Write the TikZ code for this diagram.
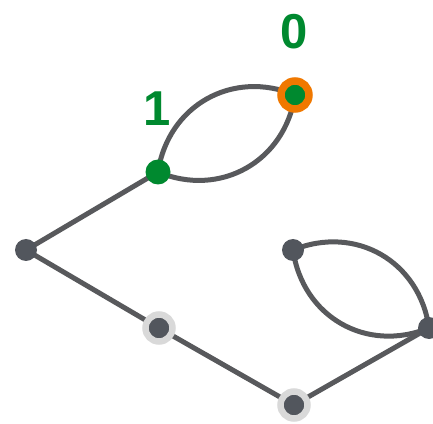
\documentclass[tikz,border=0pt]{standalone}
\usepackage{fontspec}
\setmainfont{Liberation Sans}
\usetikzlibrary{backgrounds}
\definecolor{vtxgray}{HTML}{52565D}
\definecolor{edgegray}{HTML}{58595C}
\definecolor{ringgray}{HTML}{D9D9D9}
\definecolor{mygreen}{HTML}{00892F}
\definecolor{myorange}{HTML}{F07800}
\begin{document}
\begin{tikzpicture}[x=1pt, y=1pt,
    vtx/.style={circle, fill=vtxgray, inner sep=0pt, minimum size=22pt},
    greenvtx/.style={circle, fill=mygreen, inner sep=0pt, minimum size=25pt},
    ringvtx/.style={circle, fill=vtxgray, draw=ringgray, line width=6.5pt, inner sep=0pt, minimum size=27pt},
    markvtx/.style={circle, fill=mygreen, draw=myorange, line width=7.5pt, inner sep=0pt, minimum size=28pt},
    edge/.style={draw=edgegray, line width=5pt},
    lens/.style={edge, looseness=1.1},
    lbl/.style={text=mygreen, font=\fontsize{49}{49}\selectfont\bfseries}]
    \useasboundingbox (0,0) rectangle (433,423);

    % Vertices
    \node[vtx] (a) at (26,173) {};
    \node[greenvtx] (b) at (158,251) {};
    \node[markvtx] (c) at (295,328) {};
    \node[ringvtx] (d) at (159,95) {};
    \node[ringvtx] (e) at (294,18) {};
    \node[vtx] (f) at (429,95) {};
    \node[vtx] (g) at (293,173) {};

    % Edges
    \begin{pgfonlayer}{background}
    \draw[edge] (a.center) -- (b.center);
    \draw[edge] (a.center) -- (d.center);
    \draw[edge] (d.center) -- (e.center);
    \draw[edge] (e.center) -- (f.center);
    \draw[lens] (b.center) to[bend left=52] (c.center);
    \draw[lens] (b.center) to[bend right=52] (c.center);
    \draw[lens] (g.center) to[bend left=52] (f.center);
    \draw[lens] (g.center) to[bend right=52] (f.center);
    \end{pgfonlayer}

    % Labels
    \node[lbl] (lb) at (157,314) {1};
    \node[lbl] (lc) at (294,391) {0};
\end{tikzpicture}
\end{document}
